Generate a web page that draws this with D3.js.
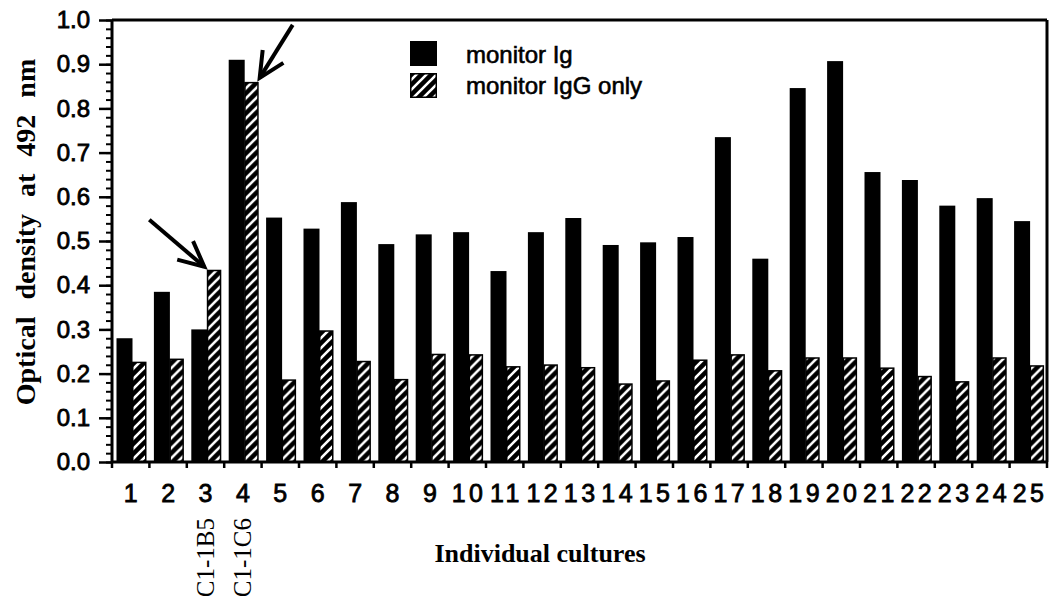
<!DOCTYPE html>
<html>
<head>
<meta charset="utf-8">
<script src="https://cdn.jsdelivr.net/npm/d3@7"></script>
<style>
  html, body { margin: 0; padding: 0; background: #fff; }
  svg { display: block; }
</style>
</head>
<body>
<svg id="chart" width="1050" height="596"></svg>
<script>
// Culture numbers along the x axis
const cultures = ["1","2","3","4","5","6","7","8","9","10","11","12","13","14","15","16","17","18","19","20","21","22","23","24","25"];
// Optical density, total Ig monitor
const monitorIg = [0.28, 0.385, 0.30, 0.91, 0.553, 0.528, 0.588, 0.493, 0.515, 0.52, 0.432, 0.52, 0.552, 0.491, 0.497, 0.509, 0.735, 0.46, 0.846, 0.907, 0.656, 0.638, 0.58, 0.597, 0.545];
// Optical density, IgG-only monitor
const monitorIgGOnly = [0.227, 0.234, 0.435, 0.86, 0.187, 0.298, 0.229, 0.188, 0.245, 0.244, 0.217, 0.221, 0.215, 0.178, 0.185, 0.232, 0.244, 0.208, 0.237, 0.237, 0.214, 0.195, 0.183, 0.237, 0.219];
const seriesNames = ["monitor Ig", "monitor IgG only"];
const yTicks = [0, 0.1, 0.2, 0.3, 0.4, 0.5, 0.6, 0.7, 0.8, 0.9, 1.0];
// Clone names written under selected cultures
const cloneLabels = [{culture: "3", text: "C1-1B5"}, {culture: "4", text: "C1-1C6"}];
// Arrows pointing at the selected IgG-only bars
const arrowNotes = [
  {culture: "3", corner: "left",  tx: -2, ty: -3, dx: -55, dy: -47},
  {culture: "4", corner: "right", tx: 1,  ty: -4, dx: 33,  dy: -53}
];

const svg = d3.select("#chart");
const margin = {left: 112, right: 3, top: 20, bottom: 134};
const W = 1050, H = 596;
const plotW = W - margin.left - margin.right;
const plotH = H - margin.top - margin.bottom;

const sans = "'Liberation Sans', Arial, Helvetica, sans-serif";
const serif = "'Liberation Serif', 'Times New Roman', Times, serif";

// Hatch fill: white diagonal stripes on black
const defs = svg.append("defs");
const pat = defs.append("pattern")
  .attr("id", "hatch").attr("patternUnits", "userSpaceOnUse")
  .attr("width", 10).attr("height", 10);
pat.append("rect").attr("width", 10).attr("height", 10).attr("fill", "#000");
pat.append("path")
  .attr("d", "M0,10 L10,0 M-5,5 L5,-5 M5,15 L15,5")
  .attr("stroke", "#fff").attr("stroke-width", 2.6);

const g = svg.append("g").attr("transform", `translate(${margin.left},${margin.top})`);

const x = d3.scaleBand().domain(cultures).range([0, plotW]).padding(0);
const x1 = d3.scaleBand().domain(seriesNames).range([4.5, 34.5]).padding(0);
const y = d3.scaleLinear().domain([0, 1]).range([plotH, 0]);

const rows = cultures.map((c, i) => ({culture: c, values: [monitorIg[i], monitorIgGOnly[i]]}));

// Bars
const groups = g.selectAll("g.grp").data(rows).join("g")
  .attr("class", "grp")
  .attr("transform", d => `translate(${x(d.culture)},0)`);

groups.append("rect")
  .attr("x", x1(seriesNames[0]))
  .attr("width", x1.bandwidth() + 1)
  .attr("y", d => y(d.values[0]))
  .attr("height", d => plotH - y(d.values[0]))
  .attr("fill", "#000");

groups.append("rect")
  .attr("x", x1(seriesNames[1]) + 1.25)
  .attr("width", x1.bandwidth() - 2)
  .attr("y", d => y(d.values[1]) + 0.75)
  .attr("height", d => plotH - y(d.values[1]) - 0.75)
  .attr("fill", "url(#hatch)")
  .attr("stroke", "#000").attr("stroke-width", 1.5);

// Y axis: minor ticks every 0.02, major every 0.1
const minorTicks = d3.range(0, 1.0001, 0.02);
g.append("g")
  .call(d3.axisLeft(y).tickValues(minorTicks).tickSize(6).tickFormat(""))
  .call(a => a.select(".domain").remove())
  .selectAll("line").attr("stroke", "#000").attr("stroke-width", 2);

const yAxis = g.append("g")
  .call(d3.axisLeft(y).tickValues(yTicks).tickSize(13).tickPadding(9).tickFormat(d3.format(".1f")))
  .call(a => a.select(".domain").remove());
yAxis.selectAll("line").attr("stroke", "#000").attr("stroke-width", 2.5);
yAxis.selectAll("text")
  .attr("font-family", sans).attr("font-size", 24)
  .attr("fill", "#000").attr("stroke", "#000").attr("stroke-width", 0.8);

// X ticks at culture boundaries
const bounds = cultures.map(c => x(c)).concat([plotW]);
g.append("g").selectAll("line").data(bounds).join("line")
  .attr("x1", d => d).attr("x2", d => d)
  .attr("y1", plotH).attr("y2", plotH + 6)
  .attr("stroke", "#000").attr("stroke-width", 2.5);

// X category labels
const ls = 3.5;
g.append("g").selectAll("text").data(cultures).join("text")
  .attr("x", d => x(d) + x.bandwidth() / 2 + ls / 2)
  .attr("y", plotH + 40)
  .attr("text-anchor", "middle")
  .attr("font-family", sans).attr("font-size", 25)
  .attr("letter-spacing", ls)
  .attr("fill", "#000").attr("stroke", "#000").attr("stroke-width", 0.8)
  .text(d => d);

// Frame: left, bottom, top, right
const frame = g.append("g").attr("stroke", "#000").attr("fill", "none");
frame.append("line").attr("x1", 0).attr("x2", 0).attr("y1", 0).attr("y2", plotH + 1).attr("stroke-width", 3);
frame.append("line").attr("x1", 0).attr("x2", plotW).attr("y1", plotH).attr("y2", plotH).attr("stroke-width", 3);
frame.append("line").attr("x1", 0).attr("x2", plotW).attr("y1", 0).attr("y2", 0).attr("stroke-width", 3);
frame.append("line").attr("x1", plotW).attr("x2", plotW).attr("y1", 0).attr("y2", plotH).attr("stroke-width", 3);

// Clone name labels, vertical
g.append("g").selectAll("text").data(cloneLabels).join("text")
  .attr("transform", d => `translate(${x(d.culture) + x.bandwidth() / 2 + 8},${plotH + 56}) rotate(-90)`)
  .attr("text-anchor", "end")
  .attr("font-family", serif).attr("font-size", 25)
  .attr("fill", "#000")
  .text(d => d.text);

// Arrows
const arrowG = g.append("g").attr("stroke", "#000").attr("fill", "none")
  .attr("stroke-width", 4).attr("stroke-linecap", "butt").attr("stroke-linejoin", "miter");
arrowNotes.forEach(a => {
  const i = cultures.indexOf(a.culture);
  const bx = x(a.culture) + x1(seriesNames[1]) + (a.corner === "right" ? x1.bandwidth() : 0);
  const tipX = bx + a.tx, tipY = y(monitorIgGOnly[i]) + a.ty;
  const tailX = tipX + a.dx, tailY = tipY + a.dy;
  arrowG.append("line").attr("x1", tailX).attr("y1", tailY).attr("x2", tipX).attr("y2", tipY);
  const ang = Math.atan2(a.dy, a.dx), L = 28, spread = 0.45;
  const p1 = [tipX + L * Math.cos(ang - spread), tipY + L * Math.sin(ang - spread)];
  const p2 = [tipX + L * Math.cos(ang + spread), tipY + L * Math.sin(ang + spread)];
  arrowG.append("path").attr("d", `M${p1[0]},${p1[1]} L${tipX},${tipY} L${p2[0]},${p2[1]}`);
});

// Legend
const legend = svg.append("g").attr("transform", "translate(410,41)");
legend.append("rect").attr("x", 0).attr("y", 0).attr("width", 27).attr("height", 25).attr("fill", "#000");
legend.append("rect").attr("x", 0.75).attr("y", 32.75).attr("width", 25.5).attr("height", 23.5)
  .attr("fill", "url(#hatch)").attr("stroke", "#000").attr("stroke-width", 1.5);
legend.selectAll("text").data(seriesNames).join("text")
  .attr("x", 56).attr("y", (d, i) => 22 + i * 31)
  .attr("font-family", sans).attr("font-size", 24)
  .attr("fill", "#000").attr("stroke", "#000").attr("stroke-width", 0.6)
  .text(d => d);

// Axis titles
svg.append("text")
  .attr("transform", "translate(35,232) rotate(-90)")
  .attr("text-anchor", "middle")
  .attr("font-family", serif).attr("font-weight", "bold").attr("font-size", 28)
  .attr("word-spacing", 10)
  .attr("fill", "#000")
  .text("Optical density at 492 nm");

svg.append("text")
  .attr("x", 540).attr("y", 562)
  .attr("text-anchor", "middle")
  .attr("font-family", serif).attr("font-weight", "bold").attr("font-size", 26)
  .attr("fill", "#000")
  .text("Individual cultures");
</script>
</body>
</html>
